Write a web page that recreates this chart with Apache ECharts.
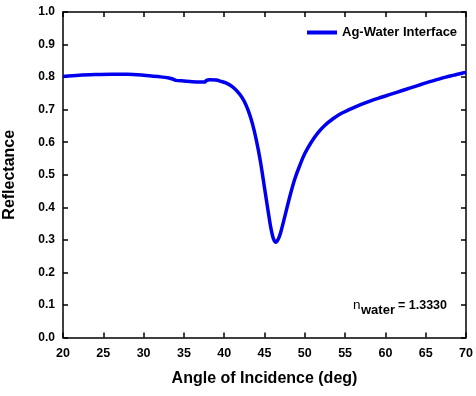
<!DOCTYPE html>
<html><head><meta charset="utf-8">
<script src="https://cdn.jsdelivr.net/npm/echarts@6/dist/echarts.min.js"></script>
<style>html,body{margin:0;padding:0;background:#fff}#c{width:476px;height:396px}</style>
</head><body><div id="c"></div>
<script>
const angles = [20,22,24,26,28,30,32,33,33.5,34,35,36,37,37.6,37.8,38.2,39,39.6,40.2,40.8,41.4,42,42.5,43,43.5,44,44.5,45,45.5,45.8,46.1,46.4,46.7,47,47.4,47.8,48.3,48.8,49.4,50,50.8,51.6,52.5,53.5,54.5,55.5,56.5,57.5,58.5,59.5,60.5,61.5,62.5,63.5,64.5,65.5,66.5,67.5,68.5,69.5,70];
const reflectance = [0.802,0.806,0.808,0.809,0.809,0.806,0.801,0.798,0.795,0.790,0.788,0.786,0.785,0.785,0.790,0.792,0.791,0.787,0.782,0.774,0.762,0.745,0.725,0.696,0.657,0.605,0.540,0.460,0.380,0.335,0.304,0.293,0.302,0.322,0.360,0.400,0.448,0.490,0.530,0.565,0.600,0.628,0.652,0.672,0.688,0.700,0.711,0.721,0.730,0.738,0.746,0.754,0.762,0.770,0.778,0.786,0.793,0.800,0.806,0.812,0.814];
const seriesName = 'Ag-Water Interface';
const xTicks = [20,25,30,35,40,45,50,55,60,65,70];
const yTicks = [0.0,0.1,0.2,0.3,0.4,0.5,0.6,0.7,0.8,0.9,1.0];

const chart = echarts.init(document.getElementById('c'), null, {renderer:'canvas'});
const FONT = '"Liberation Sans", Arial, sans-serif';
const axisLine = {show:true, onZero:false, lineStyle:{color:'#000', width:1.5}};
const axisTick = {show:true, inside:true, length:5, lineStyle:{color:'#000', width:1.5}};
const data = angles.map((a,i)=>[a, reflectance[i]]);
chart.setOption({
  animation:false,
  backgroundColor:'#fff',
  grid:{left:63, right:10, top:12, bottom:58.5, containLabel:false, outerBoundsMode:'none'},
  legend:{
    data:[{name:seriesName, icon:'rect'}],
    left:307, top:26, itemWidth:30, itemHeight:4, itemGap:5, padding:0,
    textStyle:{fontFamily:FONT, fontWeight:'bold', fontSize:13, color:'#000'}
  },
  xAxis:[{
    type:'value', min:20, max:70, interval:5, position:'bottom',
    axisLine, axisTick, splitLine:{show:false},
    axisLabel:{fontFamily:FONT, fontWeight:'bold', fontSize:12.5, color:'#000', margin:9.5,
      formatter:v=>xTicks.includes(v)?String(v):''},
    name:'Angle of Incidence (deg)', nameLocation:'middle', nameGap:33,
    nameTextStyle:{fontFamily:FONT, fontWeight:'bold', fontSize:16, color:'#000'}
  },{
    type:'value', min:20, max:70, interval:5, position:'top',
    axisLine, axisTick, axisLabel:{show:false}, splitLine:{show:false}
  }],
  yAxis:[{
    type:'value', min:0, max:1, interval:0.1, position:'left',
    axisLine, axisTick, splitLine:{show:false},
    axisLabel:{fontFamily:FONT, fontWeight:'bold', fontSize:12, color:'#000', margin:8,
      formatter:v=>yTicks.some(t=>Math.abs(t-v)<1e-9)?v.toFixed(1):''},
    name:'Reflectance', nameLocation:'middle', nameGap:45, nameRotate:90,
    nameTextStyle:{fontFamily:FONT, fontWeight:'bold', fontSize:16, color:'#000'}
  },{
    type:'value', min:0, max:1, interval:0.1, position:'right',
    axisLine, axisTick, axisLabel:{show:false}, splitLine:{show:false}
  }],
  series:[{
    name:seriesName, type:'line', data, showSymbol:false, smooth:0.3,
    lineStyle:{color:'#0000ee', width:3.5}, itemStyle:{color:'#0000ee'}
  }],
  graphic:[
    {type:'text', left:353, top:298, style:{text:'n', font:'13.5px '+FONT, fill:'#000'}},
    {type:'text', left:361, top:304, style:{text:'water', font:'bold 13px '+FONT, fill:'#000'}},
    {type:'text', left:398, top:299.5, style:{text:'= 1.3330', font:'bold 12.5px '+FONT, fill:'#000'}}
  ]
});
</script></body></html>
